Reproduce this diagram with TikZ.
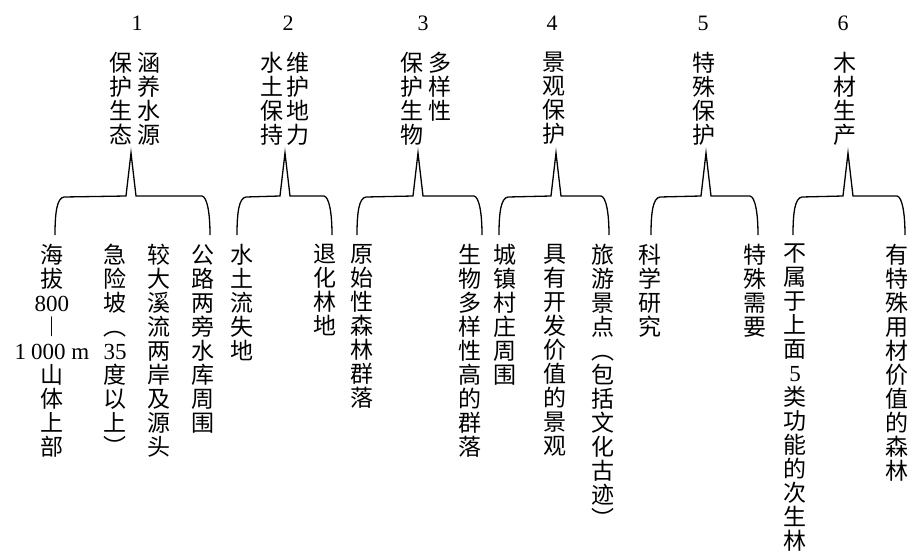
\documentclass[tikz,border=0pt]{standalone}
\usepackage{fontspec}
\setmainfont{Liberation Serif}
\newfontfamily\cjk{Noto Sans CJK SC}
\newcommand\lat[1]{{\rmfamily #1}}
\newcommand\drawbrace[3]{%
  \draw[brc] (#2,235) .. controls (#2,212) and (#2+2,198) .. (#2+9,197)
    -- (#1-5,196) -- (#1,153) -- (#1+5,196) -- (#3-8,196)
    .. controls (#3-3,197) and (#3,212) .. (#3,235);}
\tikzset{
  vt/.style={anchor=north, inner sep=0pt, align=center, font=\cjk\fontsize{23}{24}\selectfont},
  num/.style={inner sep=0pt, font=\fontsize{22}{24}\selectfont},
  brc/.style={line width=1.3pt, line join=miter},
}
\begin{document}
\begin{tikzpicture}[x=1pt,y=-1pt]
\useasboundingbox (0,0) rectangle (914,560);
% numbers
\node[num] (n1) at (137,23) {1};
\node[num] (n2) at (288,23) {2};
\node[num] (n3) at (423,23) {3};
\node[num] (n4) at (552,23) {4};
\node[num] (n5) at (703,23) {5};
\node[num] (n6) at (843,23) {6};
% titles
\node[vt] (t1a) at (121,52) {保\\护\\生\\态};
\node[vt] (t1b) at (149,52) {涵\\养\\水\\源};
\node[vt] (t2a) at (272,52) {水\\土\\保\\持};
\node[vt] (t2b) at (298,52) {维\\护\\地\\力};
\node[vt] (t3a) at (412,52) {保\\护\\生\\物};
\node[vt] (t3b) at (440,52) {多\\样\\性};
\node[vt] (t4) at (554,52) {景\\观\\保\\护};
\node[vt] (t5) at (704,52) {特\\殊\\保\\护};
\node[vt] (t6) at (845,52) {木\\材\\生\\产};
% braces
\drawbrace{131}{55}{210}
\drawbrace{285}{237}{332}
\drawbrace{418}{357}{482}
\drawbrace{556}{499}{609}
\drawbrace{706}{651}{758}
\drawbrace{848}{793}{905}
% leaves
\node[vt] (a1) at (52,244) {海\\拔\\\lat{800}\\︱\\\lat{1\hspace{0.22em}000 m}\\山\\体\\上\\部};
\node[vt] (a2) at (115,244) {急\\险\\坡\\︵\\\lat{35}\\度\\以\\上\\︶};
\node[vt] (a3) at (159,244) {较\\大\\溪\\流\\两\\岸\\及\\源\\头};
\node[vt] (a4) at (203,244) {公\\路\\两\\旁\\水\\库\\周\\围};
\node[vt] (b1) at (242,244) {水\\土\\流\\失\\地};
\node[vt] (b2) at (325,244) {退\\化\\林\\地};
\node[vt] (c1) at (362,244) {原\\始\\性\\森\\林\\群\\落};
\node[vt] (c2) at (470,244) {生\\物\\多\\样\\性\\高\\的\\群\\落};
\node[vt] (d1) at (505,244) {城\\镇\\村\\庄\\周\\围};
\node[vt] (d2) at (555,244) {具\\有\\开\\发\\价\\值\\的\\景\\观};
\node[vt] (d3) at (603,244) {旅\\游\\景\\点\\︵\\包\\括\\文\\化\\古\\迹\\︶};
\node[vt] (e1) at (650,244) {科\\学\\研\\究};
\node[vt] (e2) at (755,244) {特\\殊\\需\\要};
\node[vt] (f1) at (795,244) {不\\属\\于\\上\\面\\\lat{5}\\类\\功\\能\\的\\次\\生\\林};
\node[vt] (f2) at (897,244) {有\\特\\殊\\用\\材\\价\\值\\的\\森\\林};
\end{tikzpicture}
\end{document}
